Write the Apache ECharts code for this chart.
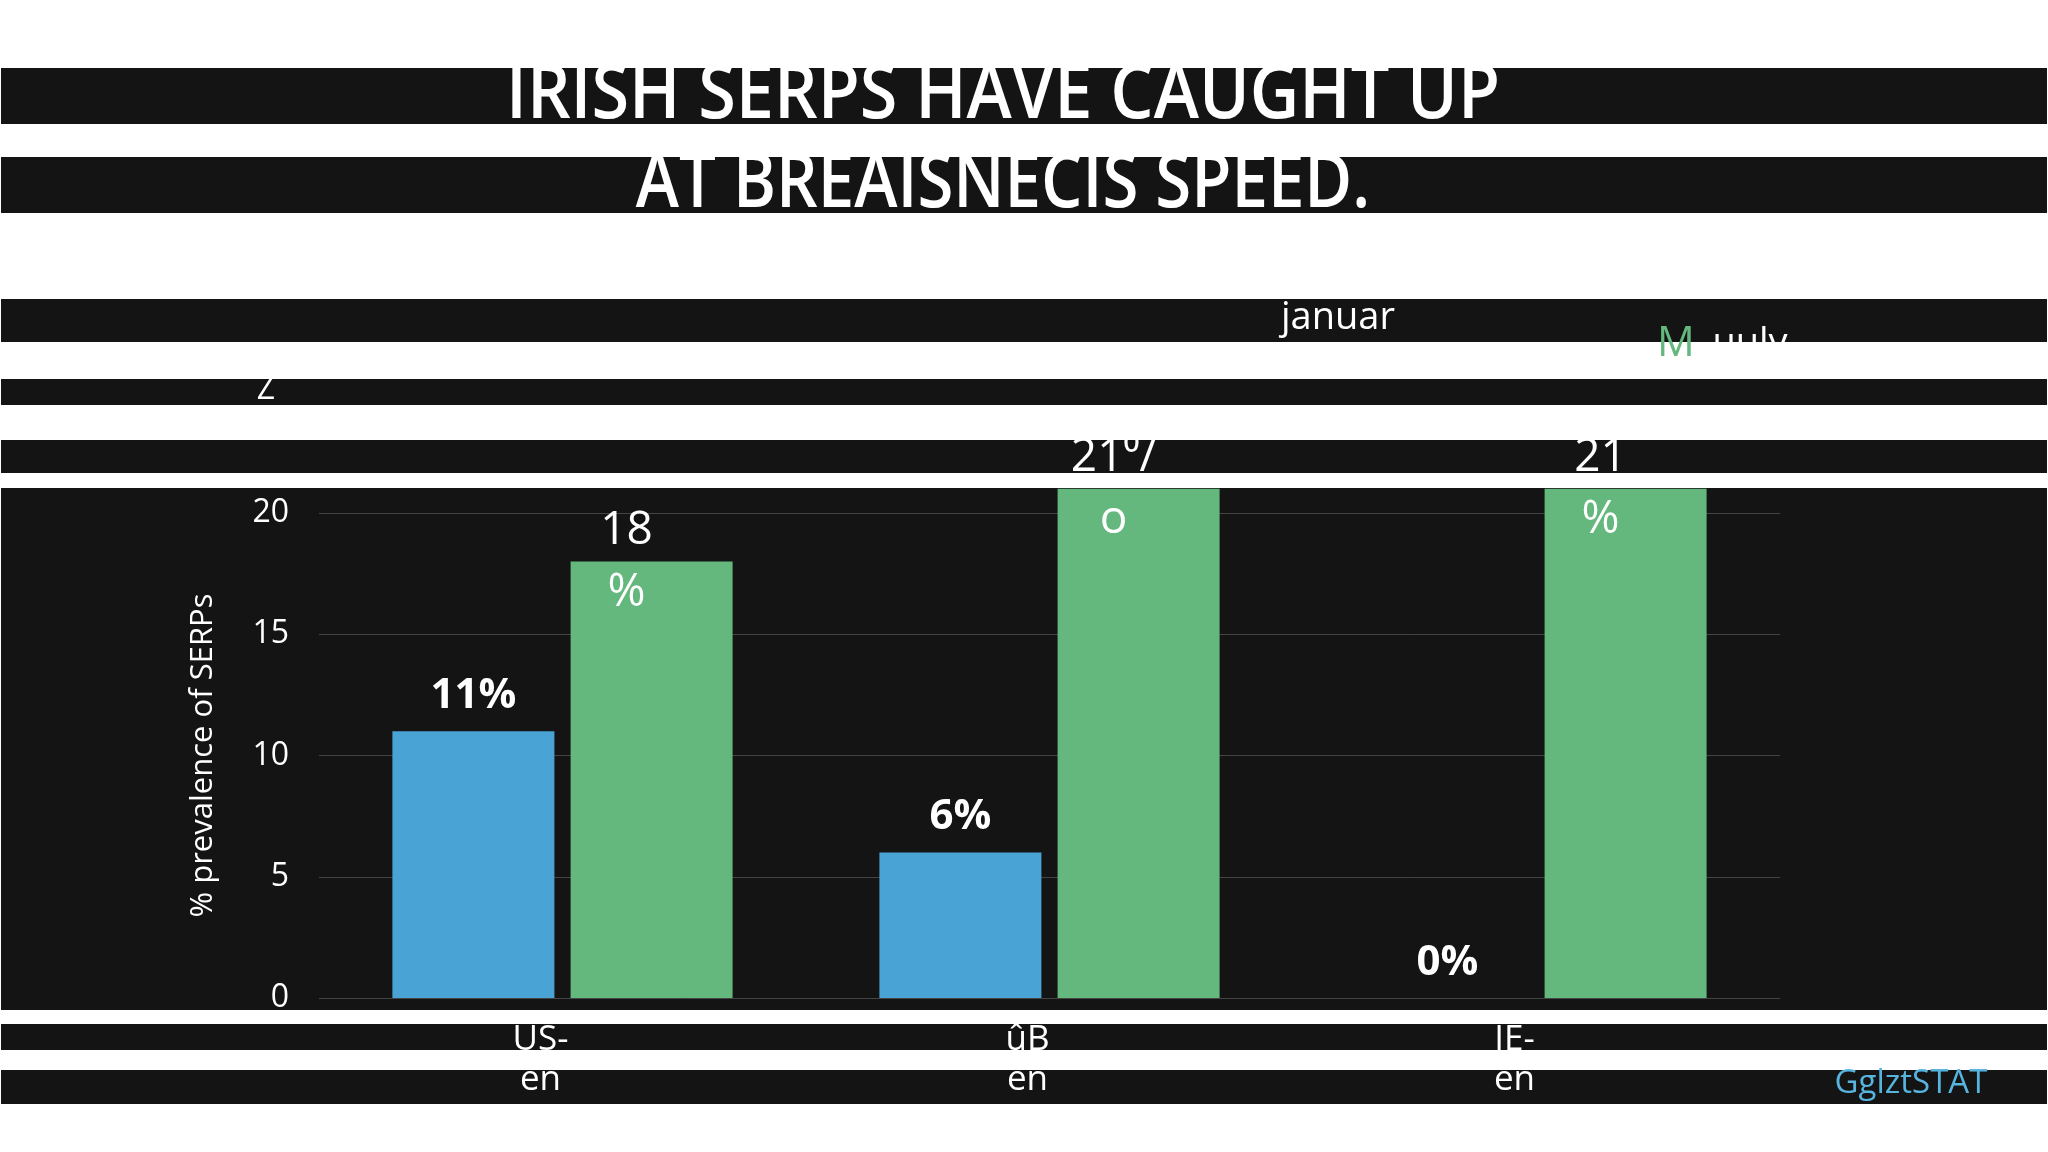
<!DOCTYPE html>
<html><head><meta charset="utf-8">
<script src="https://cdn.jsdelivr.net/npm/echarts@6/dist/echarts.min.js"></script>
<style>html,body{margin:0;background:#fff}#chart{width:2048px;height:1152px}</style>
</head><body><div id="chart"></div>
<script>
const categories = ['US-\nen', 'ûB\nen', 'IE-\nen'];
const januaryValues = [11, 6, 0];
const julyValues = [18, 21, 21];
const julyLabels = ['18\n%', '21⁰/\no', '21\n%'];
const yTicks = [0, 5, 10, 15, 20];

const chart = echarts.init(document.getElementById('chart'));
// black stripes behind everything
const bands = [[68, 56], [157, 56], [299, 43], [379, 26], [440, 33], [488, 522], [1024, 26], [1070, 34]];
const graphics = bands.map(b => ({
  type: 'rect', z: -10, shape: {x: 1, y: b[0], width: 2046, height: b[1]}, style: {fill: '#141414'}
}));
const txt = (x, y, text, size, fill, extra, sx) => ({
  type: 'text', z: 10, x: x, y: y, scaleX: sx || 1,
  style: Object.assign({text: text, fontSize: size, fill: fill, fontFamily: 'Open Sans', align: 'center', verticalAlign: 'middle'}, extra || {})
});
graphics.push(
  txt(1003, 96, 'IRISH SERPS HAVE CAUGHT UP', 76, '#fff', {fontWeight: 600}, 0.9),
  txt(1003, 185, 'AT BREAISNECIS SPEED.', 76, '#fff', {fontWeight: 600}, 0.86),
  txt(1338, 318, 'januar', 38, '#fff'),
  txt(1676, 344, 'M', 42, '#64b77d'),
  txt(1750, 344, 'uuly', 38, '#fff'),
  txt(266, 390, 'Z', 32, '#fff'),
  txt(1911, 1084, 'GglztSTAT', 33, '#56b4de')
);

const gridTop = 513, gridBottom = 998;
chart.setOption({
  animation: false,
  backgroundColor: '#fff',
  graphic: graphics,
  grid: {left: 319, right: 268, top: gridTop, bottom: 1152 - gridBottom},
  xAxis: {
    type: 'category', data: categories,
    axisLine: {show: false}, axisTick: {show: false},
    axisLabel: {color: '#fff', fontSize: 35, fontFamily: 'Open Sans', lineHeight: 40, margin: 22, padding: [0, 44, 0, 0]}
  },
  yAxis: {
    type: 'value', min: 0, max: 20, interval: 5,
    name: '% prevalence of SERPs', nameLocation: 'middle', nameGap: 100, nameRotate: 90,
    nameTextStyle: {color: '#fff', fontSize: 31, fontFamily: 'Open Sans'},
    axisLabel: {color: '#fff', fontSize: 32, fontFamily: 'Open Sans', margin: 30,
      formatter: v => yTicks.includes(v) ? String(v) : ''},
    splitLine: {lineStyle: {color: '#444', width: 1}},
    axisLine: {show: false}
  },
  series: [
    {
      type: 'bar', name: 'january', data: januaryValues, barWidth: 162, barGap: '10%',
      itemStyle: {color: '#4aa3d5'},
      label: {show: true, position: 'top', distance: 14, color: '#fff', fontSize: 42, fontWeight: 'bold',
        fontFamily: 'Open Sans', formatter: '{c}%'}
    },
    {
      type: 'bar', name: 'july', data: julyValues, barWidth: 162, clip: false,
      itemStyle: {color: '#64b77d'},
      label: {show: true, position: 'top', distance: -62, color: '#fff', fontSize: 46, lineHeight: 62,
        fontFamily: 'Open Sans', padding: [0, 50, 0, 0], formatter: p => julyLabels[p.dataIndex]}
    }
  ]
});
</script></body></html>
